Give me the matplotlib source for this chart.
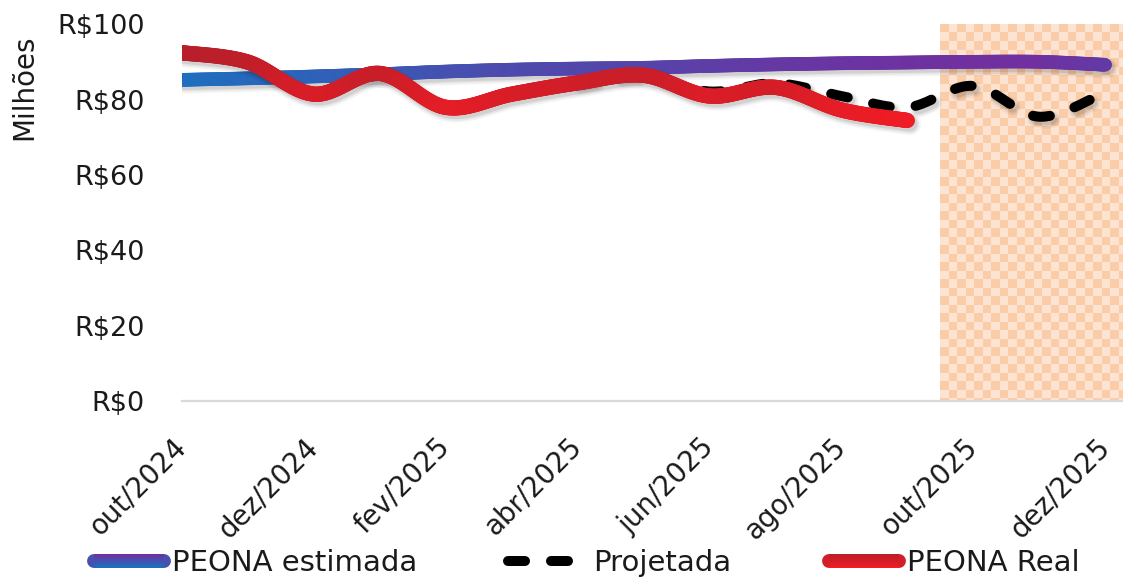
import numpy as np
import matplotlib
matplotlib.use("Agg")
import matplotlib.pyplot as plt
from matplotlib.collections import LineCollection
from matplotlib.lines import Line2D
from matplotlib.legend_handler import HandlerBase
from matplotlib.colors import LinearSegmentedColormap, Normalize, to_rgb
from matplotlib.patches import Rectangle
from matplotlib import transforms as mtransforms

# ---- data (R$ milhões) ----
months = ["out/2024", "nov/2024", "dez/2024", "jan/2025", "fev/2025", "mar/2025",
          "abr/2025", "mai/2025", "jun/2025", "jul/2025", "ago/2025", "set/2025",
          "out/2025", "nov/2025", "dez/2025"]

peona_estimada = [85.3, 85.7, 86.2, 86.8, 87.5, 88.0, 88.3, 88.5, 89.0, 89.4,
                  89.7, 89.9, 90.1, 90.1, 89.3]
peona_real = [92.5, 90.0, 81.5, 87.0, 78.0, 81.5, 84.5, 86.5, 81.0, 83.3, 77.3, 74.5]
projetada_months = ["abr/2025", "mai/2025", "jun/2025", "jul/2025", "ago/2025",
                    "set/2025", "out/2025", "nov/2025", "dez/2025"]
projetada = [84.5, 86.5, 82.2, 84.4, 81.0, 78.0, 83.7, 75.5, 82.0]

shade_months = ["out/2025", "nov/2025", "dez/2025"]
shade_value = [100, 100, 100]

y_ticks = [0, 20, 40, 60, 80, 100]
x_tick_labels = months[::2]

# ---- styling ----
BLUE = "#1E6EBE"
PURPLE = "#7030A0"
RED_DARK = "#B81F2A"
RED_BRIGHT = "#EE1C25"
CHECK_A = "#FACDA8"
CHECK_B = "#FDE4D2"
TEXT = "#1A1A1A"
DASHES = (1.7, 2.6)

fig = plt.figure(figsize=(11.23, 5.79), dpi=100)
ax = fig.add_axes([0.1621, 0.3074, 0.8379, 0.6503])
ax.set_xlim(0, 14.27)
ax.set_ylim(0, 100)


def smooth_points(xs, ys, per_seg=40):
    """Sample a Catmull-Rom style Bezier curve through the given points."""
    p = np.column_stack([xs, ys]).astype(float)
    n = len(p)
    out = [p[:1]]
    t = np.linspace(0, 1, per_seg + 1)[1:, None]
    for i in range(n - 1):
        p0 = p[i - 1] if i > 0 else p[i]
        p3 = p[i + 2] if i + 2 < n else p[i + 1]
        c1 = p[i] + (p[i + 1] - p0) / 6.0
        c2 = p[i + 1] - (p3 - p[i]) / 6.0
        seg = ((1 - t) ** 3) * p[i] + 3 * ((1 - t) ** 2) * t * c1 \
            + 3 * (1 - t) * t ** 2 * c2 + t ** 3 * p[i + 1]
        out.append(seg)
    return np.vstack(out)


def add_shadow(pts, lw, z, dashes=None):
    off = mtransforms.offset_copy(ax.transData, fig=fig, x=2.5, y=-3.5, units="dots")
    for extra, a in [(5, 0.04), (2.5, 0.06), (0, 0.09)]:
        kw = dict(color="black", alpha=a, lw=lw + extra, transform=off, zorder=z - 0.5,
                  solid_capstyle="round", solid_joinstyle="round")
        if dashes is not None:
            scale = lw / (lw + extra)
            kw.update(dashes=(dashes[0] * scale, dashes[1] * scale),
                      dash_capstyle="round")
        ax.plot(pts[:, 0], pts[:, 1], **kw)


def gradient_line(xs, ys, c_low, c_high, lw, z):
    pts = smooth_points(xs, ys)
    add_shadow(pts, lw, z)
    segs = np.stack([pts[:-1], pts[1:]], axis=1)
    mid = 0.5 * (pts[:-1, 1] + pts[1:, 1])
    cmap = LinearSegmentedColormap.from_list("g", [c_low, c_high])
    lc = LineCollection(segs, cmap=cmap, norm=Normalize(min(ys), max(ys)),
                        linewidths=lw, capstyle="round", joinstyle="round", zorder=z)
    lc.set_array(mid)
    ax.add_collection(lc)


# ---- shaded forecast window (checkered columns) ----
shade_idx = [months.index(m) for m in shade_months]
bars = ax.bar(shade_idx, shade_value, width=1.0, color=CHECK_B, linewidth=0, zorder=0)
x0 = bars[0].get_x()
x1 = bars[-1].get_x() + bars[-1].get_width()
top = max(shade_value)
fig.canvas.draw()
px_x = ax.transData.transform((1, 0))[0] - ax.transData.transform((0, 0))[0]
px_y = ax.transData.transform((0, 1))[1] - ax.transData.transform((0, 0))[1]
cell = 8.5
nx = int(np.ceil((x1 - x0) * px_x / cell))
ny = int(np.ceil(top * px_y / cell))
iy, ix = np.mgrid[0:ny, 0:nx]
board = ((ix + iy) % 2).astype(float)
check_cmap = LinearSegmentedColormap.from_list("chk", [CHECK_A, CHECK_B])
img = ax.imshow(board, cmap=check_cmap, interpolation="nearest", origin="upper",
                extent=(x0, x0 + nx * cell / px_x, top - ny * cell / px_y, top),
                aspect="auto", zorder=0.5)
clip_rect = Rectangle((x0, 0), x1 - x0, top, transform=ax.transData)
img.set_clip_path(clip_rect)
ax.set_xlim(0, 14.27)
ax.set_ylim(0, 100)

# ---- series ----
x_all = np.arange(len(months))
gradient_line(x_all, peona_estimada, BLUE, PURPLE, 9.8, 3)

proj_x = [months.index(m) for m in projetada_months]
proj_pts = smooth_points(proj_x, projetada)
add_shadow(proj_pts, 7.2, 4, dashes=DASHES)
ax.plot(proj_pts[:, 0], proj_pts[:, 1], color="black", lw=7.2,
        dashes=DASHES, dash_capstyle="round", dash_joinstyle="round", zorder=4)

gradient_line(x_all[:len(peona_real)], peona_real, RED_BRIGHT, RED_DARK, 11, 5)

# ---- axes ----
for s in ["left", "top", "right"]:
    ax.spines[s].set_visible(False)
ax.spines["bottom"].set_color("#D9D9D9")
ax.spines["bottom"].set_linewidth(1.6)
ax.spines["bottom"].set_zorder(1)

ax.set_yticks(y_ticks)
ax.set_yticklabels([f"R\\${v}" for v in y_ticks])
ax.tick_params(axis="y", length=0, pad=27, labelsize=19.5, labelcolor=TEXT)

ax.set_xticks(x_all[::2])
ax.set_xticklabels(x_tick_labels, rotation=45, ha="right", va="center",
                   rotation_mode="anchor")
ax.tick_params(axis="x", length=0, pad=30, labelsize=19.8, labelcolor=TEXT)

fig.text(24 / 1123, 1 - 87 / 579, "Milhões", rotation=90, ha="center", va="center",
         fontsize=20, color=TEXT)


# ---- legend ----
class StackedHandler(HandlerBase):
    def __init__(self, top_color, bottom_color, lw, n=10):
        super().__init__()
        self.top = np.array(to_rgb(top_color))
        self.bottom = np.array(to_rgb(bottom_color))
        self.lw = lw
        self.n = n

    def create_artists(self, legend, orig_handle, xdescent, ydescent, width,
                       height, fontsize, trans):
        yc = height / 2 - ydescent
        xa, xb = -xdescent + self.lw / 2, width - xdescent - self.lw / 2
        mid = 0.5 * (self.top + self.bottom)
        arts = [Line2D([xa, xb], [yc, yc], color=mid, lw=self.lw,
                       solid_capstyle="round", transform=trans)]
        step = self.lw / self.n
        for k in range(self.n):
            f = k / (self.n - 1)
            col = (1 - f) * self.top + f * self.bottom
            yy = yc + self.lw / 2 - (k + 0.5) * step
            arts.append(Line2D([xa, xb], [yy, yy], color=col, lw=step + 0.4,
                               solid_capstyle="butt", transform=trans))
        return arts


h_est = Line2D([], [], color=PURPLE)
h_proj = Line2D([], [], color="black", lw=7.2, dashes=DASHES, dash_capstyle="round")
h_real = Line2D([], [], color=RED_BRIGHT)
fig.legend([h_est, h_proj, h_real], ["PEONA estimada", "Projetada", "PEONA Real"],
           handler_map={h_est: StackedHandler(PURPLE, BLUE, 10),
                        h_real: StackedHandler(RED_DARK, RED_BRIGHT, 10)},
           loc="center", bbox_to_anchor=(0.5195, 0.0276), ncol=3, frameon=False,
           fontsize=21, handlelength=2.88, handletextpad=0.05, columnspacing=3.1,
           borderaxespad=0, borderpad=0, labelcolor=TEXT)

fig.savefig("out.png", dpi=100)
